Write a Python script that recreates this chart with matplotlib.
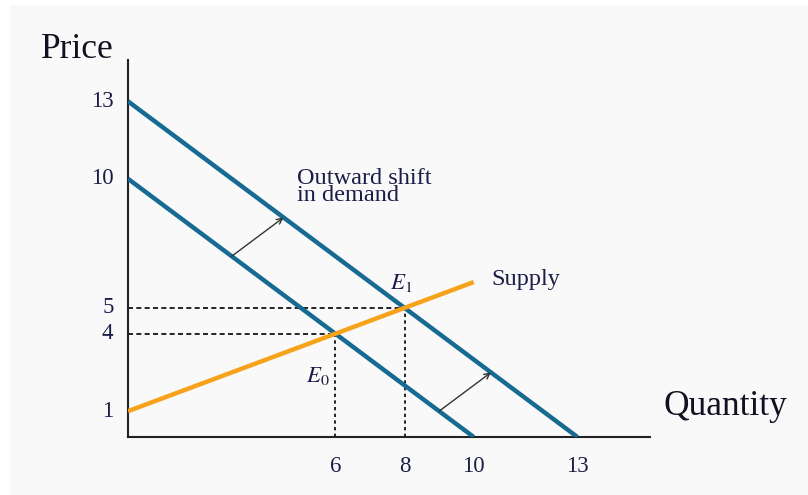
import matplotlib
matplotlib.use("Agg")
import matplotlib.pyplot as plt
from matplotlib.patches import Rectangle

plt.rcParams['font.family'] = ['Liberation Serif', 'DejaVu Serif']
plt.rcParams['mathtext.fontset'] = 'stix'

# Data
demand0_q = [0, 10]
demand0_p = [10, 0]
demand1_q = [0, 13]
demand1_p = [13, 0]
supply_q = [0, 10]
supply_p = [1, 6]
eq0 = (6, 4)
eq1 = (8, 5)
shift_arrows = [((3, 7), (4.5, 8.5)), ((9, 1), (10.5, 2.5))]
x_ticks = [6, 8, 10, 13]
y_ticks = [1, 4, 5, 10, 13]

W, H = 808, 495
fig = plt.figure(figsize=(W / 100, H / 100), dpi=100)
fig.patches.append(Rectangle((10 / W, 0), 1, 1 - 5 / H, transform=fig.transFigure,
                             facecolor='#f9f9f9', edgecolor='none', zorder=-10))
ax = fig.add_axes([128 / W, 58 / H, 522 / W, 377 / H])
ax.set_facecolor('none')
ax.set_xlim(0, 15.1)
ax.set_ylim(0, 14.6)
for s in ['top', 'right']:
    ax.spines[s].set_visible(False)
for s in ['left', 'bottom']:
    ax.spines[s].set_linewidth(1.5)
    ax.spines[s].set_color('#222222')
ax.set_xticks([])
ax.set_yticks([])

blue = '#176a91'
orange = '#f7a21b'
txt = '#1c1c48'

ax.plot(demand1_q, demand1_p, color=blue, lw=3.2, solid_capstyle='butt', zorder=3)
ax.plot(demand0_q, demand0_p, color=blue, lw=3.2, solid_capstyle='butt', zorder=3)
ax.plot(supply_q, supply_p, color=orange, lw=3.2, solid_capstyle='butt', zorder=4)

for (qx, py) in [eq0, eq1]:
    ax.plot([0, qx], [py, py], color='black', lw=1.2, ls=(0, (3, 2)), zorder=2)
    ax.plot([qx, qx], [0, py], color='black', lw=1.2, ls=(0, (2, 2)), zorder=2)

for (s, e) in shift_arrows:
    ax.annotate('', xy=e, xytext=s,
                arrowprops=dict(arrowstyle='->', color='#333333', lw=1.0,
                                shrinkA=0, shrinkB=0, mutation_scale=10), zorder=5)

for t in x_ticks:
    ax.text(t, -0.75, str(t), ha='center', va='top', fontsize=16.5, color=txt)
for t in y_ticks:
    ax.text(-0.42, t, str(t), ha='right', va='center', fontsize=16.5, color=txt)

ax.text(-0.42, 15.0, 'Price', ha='right', va='center', fontsize=25.5, color='#111122',
        clip_on=False)
ax.text(15.5, 1.2, 'Quantity', ha='left', va='center', fontsize=25.5, color='#111122',
        clip_on=False)

ax.text(4.9, 9.7, 'Outward shift\nin demand', ha='left', va='center', fontsize=17.5,
        color=txt, linespacing=0.75)
ax.text(10.5, 6.1, 'Supply', ha='left', va='center', fontsize=17.5, color=txt)
ax.text(7.9, 5.55, r'$E_1$', ha='center', va='bottom', fontsize=16.5, color=txt)
ax.text(5.5, 2.8, r'$E_0$', ha='center', va='top', fontsize=16.5, color=txt)

fig.savefig('out.png', dpi=100)
